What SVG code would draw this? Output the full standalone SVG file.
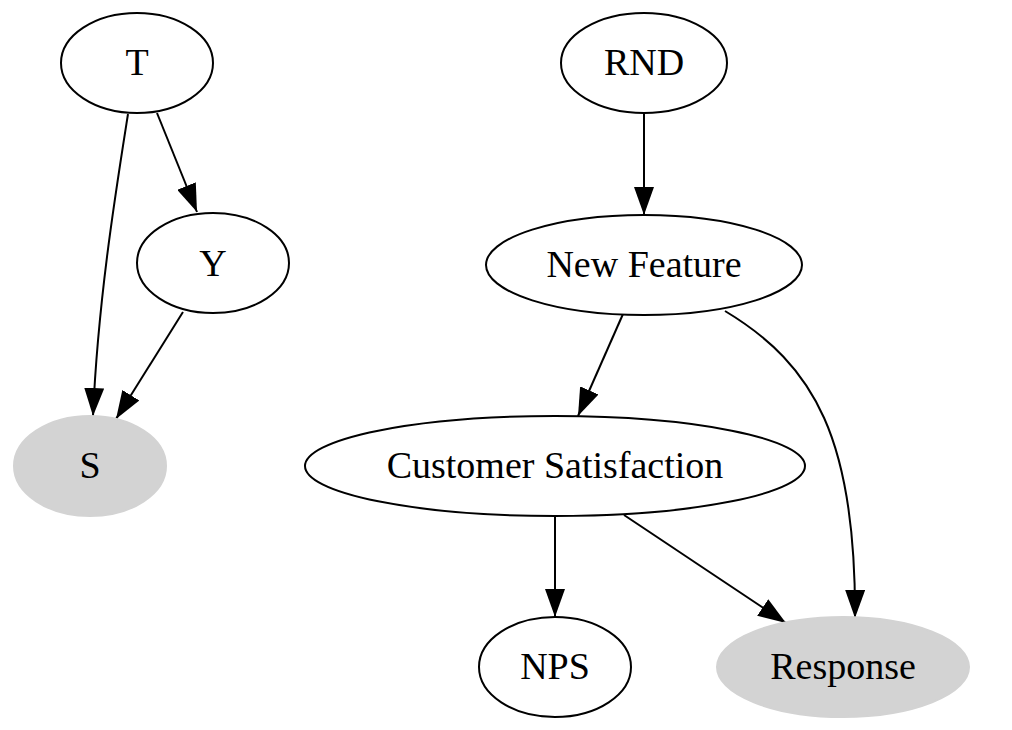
<svg xmlns="http://www.w3.org/2000/svg" width="1012" height="730" viewBox="0 0 1012 730">
<style>
.n ellipse{fill:#ffffff;stroke:#000000;stroke-width:2}
.n.g ellipse{fill:#d3d3d3;stroke:#d3d3d3}
.n text{font-family:"Liberation Serif","Times New Roman",serif;font-size:38px;fill:#000000;text-anchor:middle}
.e path{fill:none;stroke:#000000;stroke-width:2;marker-end:url(#ah)}
</style>
<defs>
<marker id="ah" viewBox="0 0 28 20" refX="28" refY="10" markerWidth="28" markerHeight="20" markerUnits="userSpaceOnUse" orient="auto">
<path d="M0,0 L28,10 L0,20 z" fill="#000000"/>
</marker>
</defs>
<rect width="1012" height="730" fill="#ffffff"/>
<g id="edges" class="e">
<path d="M128,114 C116,190 98,300 93,416"/>
<path d="M157,113 L197,212"/>
<path d="M183,312 L116,419"/>
<path d="M644,113 L644,215"/>
<path d="M623,314 L578,416"/>
<path d="M725,311 C815,365 856,440 855,618"/>
<path d="M555,516 L555,617"/>
<path d="M624,515 L786,623"/>
</g>
<g id="node-T" class="n"><ellipse cx="137" cy="63" rx="76" ry="50"/><text x="137" y="75">T</text></g>
<g id="node-Y" class="n"><ellipse cx="213" cy="263" rx="76" ry="50"/><text x="213" y="276">Y</text></g>
<g id="node-S" class="n g"><ellipse cx="90" cy="466" rx="76" ry="50"/><text x="90" y="478">S</text></g>
<g id="node-RND" class="n"><ellipse cx="644" cy="63" rx="83" ry="50"/><text x="644" y="75">RND</text></g>
<g id="node-NewFeature" class="n"><ellipse cx="644" cy="265" rx="158" ry="50"/><text x="644" y="277">New Feature</text></g>
<g id="node-CustomerSatisfaction" class="n"><ellipse cx="555" cy="466" rx="250" ry="50"/><text x="555" y="478">Customer Satisfaction</text></g>
<g id="node-NPS" class="n"><ellipse cx="555" cy="667" rx="76" ry="50"/><text x="555" y="679">NPS</text></g>
<g id="node-Response" class="n g"><ellipse cx="843" cy="667" rx="126" ry="50"/><text x="843" y="679">Response</text></g>
</svg>
